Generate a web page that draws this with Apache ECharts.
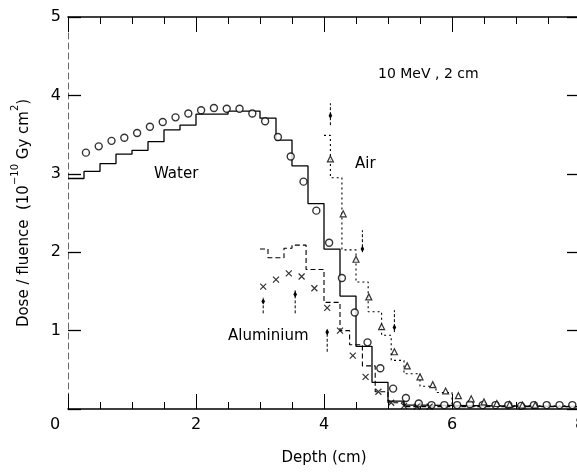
<!DOCTYPE html>
<html><head><meta charset="utf-8">
<script src="https://cdn.jsdelivr.net/npm/echarts@6/dist/echarts.min.js"></script>
<style>html,body{margin:0;padding:0;background:#fff;}#c{width:577px;height:472px;}</style>
</head><body><div id="c"></div>
<script>
// ---- data ----
const xTickValues = [0, 2, 4, 6, 8];
const yTickValues = [0, 1, 2, 3, 4, 5];

// Water: Monte Carlo histogram (bin edges, bin values)
const waterHistEdges  = [0, 0.25, 0.5, 0.75, 1, 1.25, 1.5, 1.75, 2, 2.5, 3, 3.25, 3.5, 3.75, 4, 4.25, 4.5, 4.75, 5, 5.25, 5.5, 8];
const waterHistValues = [2.94, 3.03, 3.13, 3.25, 3.30, 3.41, 3.56, 3.62, 3.76, 3.80, 3.71, 3.43, 3.10, 2.62, 2.04, 1.44, 0.80, 0.34, 0.10, 0.05, 0.03];

// Water: measured (open circles)
const waterX = [0.28,0.48,0.68,0.88,1.08,1.28,1.48,1.68,1.88,2.08,2.28,2.48,2.68,2.88,3.08,3.28,3.48,3.68,3.88,4.08,4.28,4.48,4.68,4.88,5.08,5.28,5.48,5.68,5.88,6.08,6.28,6.48,6.68,6.88,7.08,7.28,7.48,7.68,7.88];
const waterY = [3.27,3.35,3.42,3.46,3.52,3.60,3.66,3.72,3.77,3.81,3.84,3.83,3.83,3.77,3.67,3.47,3.22,2.90,2.53,2.12,1.67,1.23,0.85,0.52,0.26,0.14,0.07,0.05,0.05,0.05,0.06,0.05,0.05,0.05,0.04,0.05,0.05,0.05,0.05];

// Aluminium: histogram (dashed)
const alHistEdges  = [3.0, 3.125, 3.375, 3.5, 3.72, 4.0, 4.25, 4.4, 4.6, 4.8, 5.0, 5.25, 8];
const alHistValues = [2.04, 1.93, 2.05, 2.09, 1.78, 1.36, 1.00, 0.82, 0.55, 0.22, 0.08, 0.03];

// Aluminium: measured (crosses)
const alX = [3.05,3.25,3.45,3.65,3.85,4.05,4.25,4.45,4.65,4.85,5.05,5.25,5.45,5.65];
const alY = [1.56,1.65,1.73,1.69,1.54,1.29,1.00,0.68,0.41,0.22,0.08,0.04,0.03,0.03];

// Air: histogram (dotted)
const airHistEdges  = [4.0, 4.1, 4.28, 4.5, 4.69, 4.9, 5.05, 5.25, 5.5, 5.75, 6.0, 8];
const airHistValues = [3.49, 2.95, 2.03, 1.62, 1.24, 0.94, 0.62, 0.45, 0.29, 0.21, 0.04];

// Air: measured (open triangles)
const airX = [4.1,4.3,4.5,4.7,4.9,5.1,5.3,5.5,5.7,5.9,6.1,6.3,6.5,6.7,6.9,7.1,7.3];
const airY = [3.19,2.49,1.91,1.43,1.05,0.73,0.55,0.41,0.31,0.23,0.17,0.13,0.09,0.07,0.06,0.05,0.05];

// Interface markers with error bars: x, value, low, high
const barX    = [3.05, 3.55, 4.05, 4.10, 4.60, 5.10];
const barY    = [1.37, 1.46, 0.98, 3.74, 2.04, 1.04];
const barLow  = [1.22, 1.22, 0.73, 3.62, 2.00, 0.98];
const barHigh = [1.42, 1.52, 1.01, 3.90, 2.28, 1.26];

// ---- build ----
function hist(edges, vals) {
  const d = [];
  for (let i = 0; i < vals.length; i++) { d.push([edges[i], vals[i]]); d.push([edges[i + 1], vals[i]]); }
  return d;
}
function pts(xs, ys) { return xs.map((x, i) => [x, ys[i]]); }

const FONT = 'DejaVu Sans';
const black = '#000';
const chart = echarts.init(document.getElementById('c'), null, {renderer: 'canvas'});

const xCommon = {
  type: 'value', min: 0, max: 8, interval: 2,
  splitLine: {show: false},
  axisTick: {show: true, inside: true, length: 15, lineStyle: {color: black, width: 1}},
  minorTick: {show: true, splitNumber: 4, length: 7, lineStyle: {color: black, width: 1}}
};
const yCommon = {
  type: 'value', min: 0, max: 5, interval: 1,
  splitLine: {show: false},
  axisTick: {show: true, inside: true, length: 13, lineStyle: {color: black, width: 1.3}}
};

const option = {
  animation: false,
  backgroundColor: '#fff',
  grid: {left: 68, top: 17, width: 512, height: 392, containLabel: false, outerBoundsMode: 'none'},
  xAxis: [
    Object.assign({}, xCommon, {
      position: 'bottom',
      axisLine: {show: true, onZero: false, lineStyle: {color: black, width: 1.6}},
      axisLabel: {
        show: true, color: black, fontFamily: FONT, fontSize: 16, margin: 8,
        formatter: v => (v === 0 ? '{z|0}' : String(v)),
        rich: {z: {fontFamily: FONT, fontSize: 16, color: black, padding: [0, 26, 0, 0]}}
      },
      name: 'Depth (cm)', nameLocation: 'middle', nameGap: 42,
      nameTextStyle: {fontFamily: FONT, fontSize: 15, color: black}
    }),
    Object.assign({}, xCommon, {
      position: 'top',
      axisLine: {show: true, onZero: false, lineStyle: {color: black, width: 1.6}},
      axisLabel: {show: false}
    })
  ],
  yAxis: [
    Object.assign({}, yCommon, {
      position: 'left',
      axisLine: {show: true, onZero: false, lineStyle: {color: '#666', width: 1, type: [6, 4]}},
      axisLabel: {show: true, color: black, fontFamily: FONT, fontSize: 16, margin: 7,
        formatter: v => (v === 0 ? '' : String(v))},
      name: '{t|Dose / fluence  (10}{s|−10}{t| Gy cm}{s|2}{t|)}',
      nameLocation: 'middle', nameGap: 36,
      nameTextStyle: {
        rich: {
          t: {fontFamily: FONT, fontSize: 15, color: black, lineHeight: 22, verticalAlign: 'bottom'},
          s: {fontFamily: FONT, fontSize: 10, color: black, lineHeight: 22, verticalAlign: 'top'}
        }
      }
    }),
    Object.assign({}, yCommon, {
      position: 'right',
      axisLine: {show: true, onZero: false, lineStyle: {color: black, width: 1.3}},
      axisLabel: {show: false}
    })
  ],
  graphic: [
    {type: 'text', left: 378, top: 67, style: {text: '10 MeV , 2 cm', font: '14px "DejaVu Sans"', fill: black}},
    {type: 'text', left: 355, top: 157, style: {text: 'Air', font: '15px "DejaVu Sans"', fill: black}},
    {type: 'text', left: 154, top: 167, style: {text: 'Water', font: '15px "DejaVu Sans"', fill: black}},
    {type: 'text', left: 228, top: 329, style: {text: 'Aluminium', font: '15px "DejaVu Sans"', fill: black}}
  ],
  series: [
    {
      name: 'Water MC', type: 'line', data: hist(waterHistEdges, waterHistValues),
      showSymbol: false, symbol: 'none', lineStyle: {color: black, width: 1.3}, z: 3
    },
    {
      name: 'Al MC', type: 'line', data: hist(alHistEdges, alHistValues),
      showSymbol: false, symbol: 'none', lineStyle: {color: black, width: 1.1, type: [5, 3]}, z: 3
    },
    {
      name: 'Air MC', type: 'line', data: hist(airHistEdges, airHistValues),
      showSymbol: false, symbol: 'none', lineStyle: {color: black, width: 1.1, type: [2, 3]}, z: 3
    },
    {
      name: 'Water', type: 'scatter', data: pts(waterX, waterY),
      symbol: 'circle', symbolSize: 7,
      itemStyle: {color: '#fff', borderColor: black, borderWidth: 1.4}, z: 4
    },
    {
      name: 'Aluminium', type: 'scatter', data: pts(alX, alY),
      symbol: 'path://M0,0L10,10M10,0L0,10', symbolSize: 6,
      itemStyle: {color: 'rgba(0,0,0,0)', borderColor: black, borderWidth: 1.2}, z: 4
    },
    {
      name: 'Air', type: 'scatter', data: pts(airX, airY),
      symbol: 'triangle', symbolSize: 6,
      itemStyle: {color: '#fff', borderColor: black, borderWidth: 1.2}, z: 4
    },
    {
      name: 'Interface', type: 'custom', coordinateSystem: 'cartesian2d',
      data: barX.map((x, i) => [x, barY[i], barLow[i], barHigh[i]]),
      encode: {x: 0, y: [1, 2, 3]},
      renderItem: function (params, api) {
        const x = api.value(0);
        const p = api.coord([x, api.value(1)]);
        const a = api.coord([x, api.value(2)]);
        const b = api.coord([x, api.value(3)]);
        return {
          type: 'group',
          children: [
            {type: 'line', shape: {x1: a[0], y1: a[1], x2: b[0], y2: b[1]},
             style: {stroke: black, lineWidth: 1, lineDash: [3, 2]}},
            {type: 'polygon', shape: {points: [[p[0], p[1] - 3.5], [p[0] + 1.8, p[1]], [p[0], p[1] + 3], [p[0] - 1.8, p[1]]]},
             style: {fill: black}}
          ]
        };
      },
      z: 5
    }
  ]
};
chart.setOption(option);
</script>
</body></html>
